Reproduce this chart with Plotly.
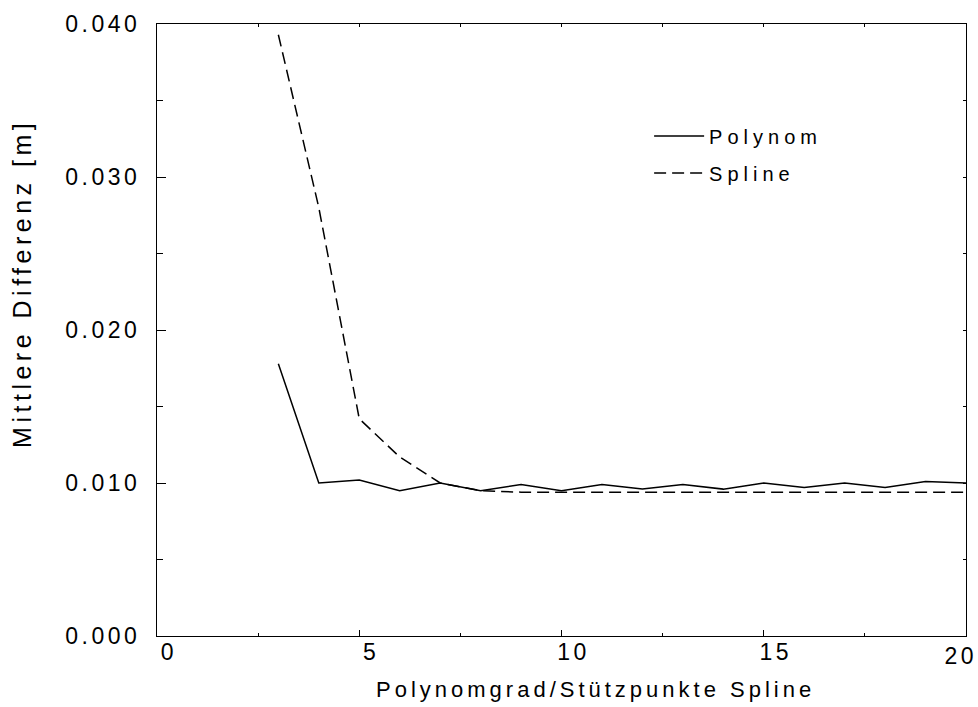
import plotly.graph_objects as go

# ---- data ----
x_vals = list(range(3, 21))
polynom = [0.0178, 0.0100, 0.0102, 0.0095, 0.0100, 0.0095, 0.0099, 0.0095, 0.0099,
           0.0096, 0.0099, 0.0096, 0.0100, 0.0097, 0.0100, 0.0097, 0.0101, 0.0100]
spline = [0.0393, 0.0280, 0.0142, 0.0117, 0.0100, 0.0095, 0.0094, 0.0094, 0.0094,
          0.0094, 0.0094, 0.0094, 0.0094, 0.0094, 0.0094, 0.0094, 0.0094, 0.0094]
x_ticks = [0, 5, 10, 15, 20]
x_ticktext = ["0", "5", "10", "15", ""]
y_ticks = [0.0, 0.01, 0.02, 0.03, 0.04]
y_ticktext = ["0.000", "0.010", "0.020", "0.030", "0.040"]

FONT = "Liberation Sans, Arial, sans-serif"

fig = go.Figure()
fig.add_trace(go.Scatter(x=x_vals, y=polynom, mode="lines", name="Polynom",
                         legendgroup="a",
                         line=dict(color="black", width=1.5)))
fig.add_trace(go.Scatter(x=x_vals, y=spline, mode="lines", name="Spline",
                         legendgroup="b",
                         line=dict(color="black", width=1.5, dash="12px,6px")))
# helper trace so the mirrored (top/right) axes are drawn
fig.add_trace(go.Scatter(x=[], y=[], xaxis="x2", yaxis="y2", showlegend=False,
                         hoverinfo="skip"))

fig.update_layout(
    width=978, height=707,
    margin=dict(l=157, r=11, t=21, b=71),
    paper_bgcolor="white", plot_bgcolor="white",
    font=dict(family=FONT, color="black", size=22),
    showlegend=True,
    legend=dict(x=0.6083, y=0.849, xanchor="left", yanchor="top",
                bgcolor="rgba(0,0,0,0)", font=dict(size=20, family=FONT),
                tracegroupgap=8, itemwidth=50),
    xaxis=dict(range=[0, 20], tickvals=x_ticks, ticktext=x_ticktext,
               ticks="inside", ticklen=6, tickwidth=1, tickcolor="black",
               minor=dict(dtick=2.5, tick0=0, ticks="inside", ticklen=3,
                          tickcolor="black", tickwidth=1),
               showline=True, linecolor="black", linewidth=1, mirror=True,
               showgrid=False, zeroline=False,
               tickfont=dict(size=23, family=FONT),
               ticklabelshift=12, ticklabelstandoff=-5),
    yaxis=dict(range=[0, 0.04], tickvals=y_ticks, ticktext=y_ticktext,
               ticks="inside", ticklen=9, tickwidth=1, tickcolor="black",
               minor=dict(dtick=0.005, tick0=0, ticks="inside", ticklen=6,
                          tickcolor="black", tickwidth=1),
               showline=True, linecolor="black", linewidth=1, mirror=True,
               showgrid=False, zeroline=False,
               tickfont=dict(size=23, family=FONT),
               ticklabelstandoff=11),
    xaxis2=dict(range=[0, 20], overlaying="x", side="top", anchor="y2",
                dtick=2.5, tick0=0, ticks="inside", ticklen=3, tickcolor="black",
                showticklabels=False, showline=False, showgrid=False,
                zeroline=False),
    yaxis2=dict(range=[0, 0.04], overlaying="y", side="right", anchor="x2",
                dtick=0.005, tick0=0, ticks="inside", ticklen=3, tickcolor="black",
                showticklabels=False, showline=False, showgrid=False,
                zeroline=False),
    annotations=[
        dict(text="Polynomgrad/Stützpunkte Spline", xref="paper", yref="paper",
             x=0.5426, y=-0.0878, xanchor="center", yanchor="middle",
             showarrow=False, font=dict(size=22, family=FONT)),
        dict(text="Mittlere Differenz [m]", xref="paper", yref="paper",
             x=-0.1667, y=0.5764, xanchor="center", yanchor="middle",
             textangle=-90, showarrow=False, font=dict(size=25, family=FONT)),
        dict(text="20", xref="x", yref="paper", x=20, y=0, xanchor="center",
             yanchor="top", xshift=-5, yshift=-5, showarrow=False,
             font=dict(size=23, family=FONT)),
    ],
)

post = """
var gd = document.getElementById('{plot_id}');
function applyLS(){
  gd.querySelectorAll('.xtick text, .ytick text').forEach(function(t){t.style.letterSpacing='3.5px';});
  gd.querySelectorAll('.legendtext').forEach(function(t){t.style.letterSpacing='5px';});
  gd.querySelectorAll('.legend .scrollbox, .legend').forEach(function(s){s.removeAttribute('clip-path');});
  gd.querySelectorAll('.annotation-text').forEach(function(t){
    var s = t.textContent;
    if (s.indexOf('Mittlere') >= 0) t.style.letterSpacing='4.5px';
    else if (s.indexOf('Polynomgrad') >= 0) t.style.letterSpacing='4px';
    else t.style.letterSpacing='3.5px';
  });
}
applyLS();
gd.on('plotly_afterplot', applyLS);
"""

fig.write_html("out.html", post_script=post, config={"displayModeBar": False})
